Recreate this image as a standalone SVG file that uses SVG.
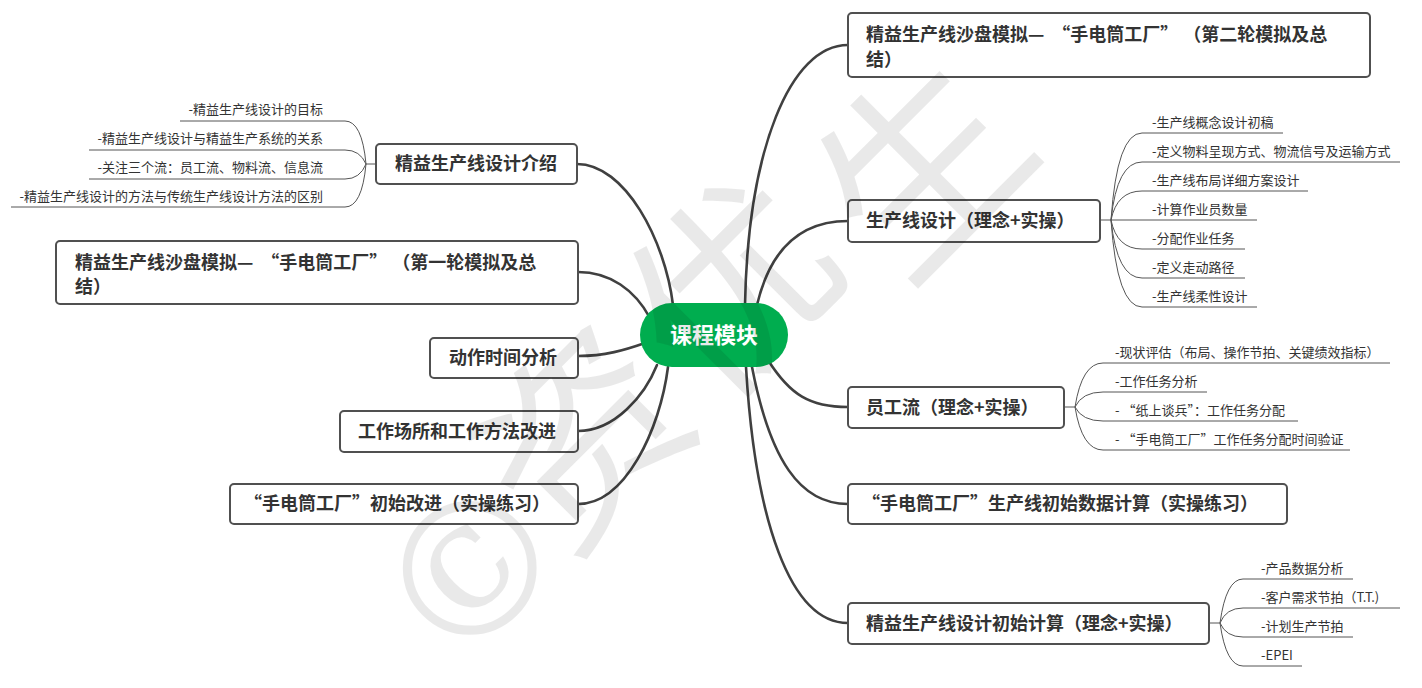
<svg xmlns="http://www.w3.org/2000/svg" width="1422" height="688" viewBox="0 0 1422 688">
<style>
.bg{fill:#ffffff}
.box{fill:#ffffff;stroke:#505050;stroke-width:2}
.t{font-family:"Noto Sans CJK SC","Liberation Sans",sans-serif;font-size:18px;font-weight:bold;fill:#333333}
.st{font-family:"Noto Sans CJK SC","Liberation Sans",sans-serif;font-size:13px;fill:#333333}
.main{fill:none;stroke:#404040;stroke-width:2.6;stroke-linecap:round}
.sub{fill:none;stroke:#555555;stroke-width:1}
.wm{font-family:"DejaVu Serif","Noto Sans CJK SC",serif;fill:#000000;fill-opacity:0.085;text-anchor:middle;dominant-baseline:central}
</style>
<rect class="bg" x="0" y="0" width="1422" height="688"/>

<g id="connectors">
  <path class="main" d="M745 305 C748 150 790 45 848 45"/>
  <path class="main" d="M757 305 C770 250 800 221 848 221"/>
  <path class="main" d="M768 360 C790 395 810 407 848 407"/>
  <path class="main" d="M752 367 C770 460 800 504 848 504"/>
  <path class="main" d="M746 367 C755 520 790 623 848 623"/>
  <path class="main" d="M577 164 C625 164 665 240 673 305"/>
  <path class="main" d="M578 272 C610 272 635 290 650 318"/>
  <path class="main" d="M578 356 C605 356 625 350 645 343"/>
  <path class="main" d="M578 431 C615 431 645 395 657 365"/>
  <path class="main" d="M578 504 C625 504 660 430 668 367"/>

  <path class="sub" d="M376 164 H366"/>
  <path class="sub" d="M180 121 H345 Q362 121 366 164"/>
  <path class="sub" d="M89 150 H345 Q360 150 366 164"/>
  <path class="sub" d="M89 179 H345 Q360 179 366 164"/>
  <path class="sub" d="M11 207 H345 Q362 207 366 164"/>

  <path class="sub" d="M1100 220 H1111"/>
  <path class="sub" d="M1111 220 Q1117 133 1142 133 H1283"/>
  <path class="sub" d="M1111 220 Q1117 162 1142 162 H1400"/>
  <path class="sub" d="M1111 220 Q1117 191 1142 191 H1308"/>
  <path class="sub" d="M1111 220 H1257"/>
  <path class="sub" d="M1111 220 Q1117 249 1142 249 H1245"/>
  <path class="sub" d="M1111 220 Q1117 278 1142 278 H1245"/>
  <path class="sub" d="M1111 220 Q1117 307 1142 307 H1257"/>

  <path class="sub" d="M1064 407 H1075"/>
  <path class="sub" d="M1075 407 Q1082 363 1103 363 H1390"/>
  <path class="sub" d="M1075 407 Q1082 392 1103 392 H1207"/>
  <path class="sub" d="M1075 407 Q1082 421 1103 421 H1298"/>
  <path class="sub" d="M1075 407 Q1082 450 1103 450 H1350"/>

  <path class="sub" d="M1209 623 H1220"/>
  <path class="sub" d="M1220 623 Q1226 579 1243 579 H1353"/>
  <path class="sub" d="M1220 623 Q1226 608 1243 608 H1400"/>
  <path class="sub" d="M1220 623 Q1226 637 1243 637 H1353"/>
  <path class="sub" d="M1220 623 Q1226 666 1243 666 H1302"/>
</g>

<g id="center">
  <rect x="640" y="303" width="148" height="64" rx="32" fill="#00AD4F"/>
  <text x="714" y="343" text-anchor="middle" font-family="Noto Sans CJK SC, Liberation Sans, sans-serif" font-size="22" font-weight="bold" fill="#ffffff">课程模块</text>
</g>

<g id="r1">
  <rect class="box" x="848" y="13" width="522" height="64" rx="4"/>
  <text class="t" x="866" y="41">精益生产线沙盘模拟—<tspan dx="8">“</tspan>手电筒工厂”<tspan dx="14">（</tspan>第二轮模拟及总</text>
  <text class="t" x="866" y="66">结）</text>
</g>
<g id="r2">
  <rect class="box" x="848" y="200" width="252" height="42" rx="4"/>
  <text class="t" x="866" y="227">生产线设计（理念+实操）</text>
</g>
<g id="r3">
  <rect class="box" x="848" y="387" width="216" height="41" rx="4"/>
  <text class="t" x="866" y="414">员工流（理念+实操）</text>
</g>
<g id="r4">
  <rect class="box" x="848" y="484" width="439" height="40" rx="4"/>
  <text class="t" x="862" y="510">“手电筒工厂”生产线初始数据计算（实操练习）</text>
</g>
<g id="r5">
  <rect class="box" x="848" y="603" width="361" height="41" rx="4"/>
  <text class="t" x="866" y="630">精益生产线设计初始计算（理念+实操）</text>
</g>

<g id="l1">
  <rect class="box" x="376" y="144" width="201" height="40" rx="4"/>
  <text class="t" x="395" y="170">精益生产线设计介绍</text>
</g>
<g id="l2">
  <rect class="box" x="56" y="241" width="522" height="63" rx="4"/>
  <text class="t" x="75" y="269">精益生产线沙盘模拟—<tspan dx="8">“</tspan>手电筒工厂”<tspan dx="14">（</tspan>第一轮模拟及总</text>
  <text class="t" x="75" y="293">结）</text>
</g>
<g id="l3">
  <rect class="box" x="430" y="338" width="148" height="40" rx="4"/>
  <text class="t" x="449" y="364">动作时间分析</text>
</g>
<g id="l4">
  <rect class="box" x="340" y="411" width="238" height="41" rx="4"/>
  <text class="t" x="358" y="438">工作场所和工作方法改进</text>
</g>
<g id="l5">
  <rect class="box" x="230" y="484" width="348" height="40" rx="4"/>
  <text class="t" x="244" y="510">“手电筒工厂”初始改进（实操练习）</text>
</g>

<g id="l1-items">
  <text class="st" x="323" y="114" text-anchor="end">-精益生产线设计的目标</text>
  <text class="st" x="323" y="143" text-anchor="end">-精益生产线设计与精益生产系统的关系</text>
  <text class="st" x="323" y="172" text-anchor="end">-关注三个流：员工流、物料流、信息流</text>
  <text class="st" x="323" y="201" text-anchor="end">-精益生产线设计的方法与传统生产线设计方法的区别</text>
</g>
<g id="r2-items">
  <text class="st" x="1152" y="127">-生产线概念设计初稿</text>
  <text class="st" x="1152" y="156">-定义物料呈现方式、物流信号及运输方式</text>
  <text class="st" x="1152" y="185">-生产线布局详细方案设计</text>
  <text class="st" x="1152" y="214">-计算作业员数量</text>
  <text class="st" x="1152" y="243">-分配作业任务</text>
  <text class="st" x="1152" y="272">-定义走动路径</text>
  <text class="st" x="1152" y="301">-生产线柔性设计</text>
</g>
<g id="r3-items">
  <text class="st" x="1115" y="357">-现状评估（布局、操作节拍、关键绩效指标）</text>
  <text class="st" x="1115" y="386">-工作任务分析</text>
  <text class="st" x="1115" y="415">- “纸上谈兵”：工作任务分配</text>
  <text class="st" x="1115" y="444">- “手电筒工厂”工作任务分配时间验证</text>
</g>
<g id="r5-items">
  <text class="st" x="1261" y="573">-产品数据分析</text>
  <text class="st" x="1261" y="602">-客户需求节拍（T.T.)</text>
  <text class="st" x="1261" y="631">-计划生产节拍</text>
  <text class="st" x="1261" y="660">-EPEI</text>
</g>

<g id="watermark">
  <text class="wm" x="472" y="570" font-size="185" transform="rotate(-45 472 570)">©</text>
  <text class="wm" x="585" y="440" font-size="200" transform="rotate(-45 585 440)">资</text>
  <text class="wm" x="735" y="290" font-size="200" transform="rotate(-45 735 290)">优</text>
  <text class="wm" x="925" y="170" font-size="200" transform="rotate(-45 925 170)">生</text>
</g>
</svg>
